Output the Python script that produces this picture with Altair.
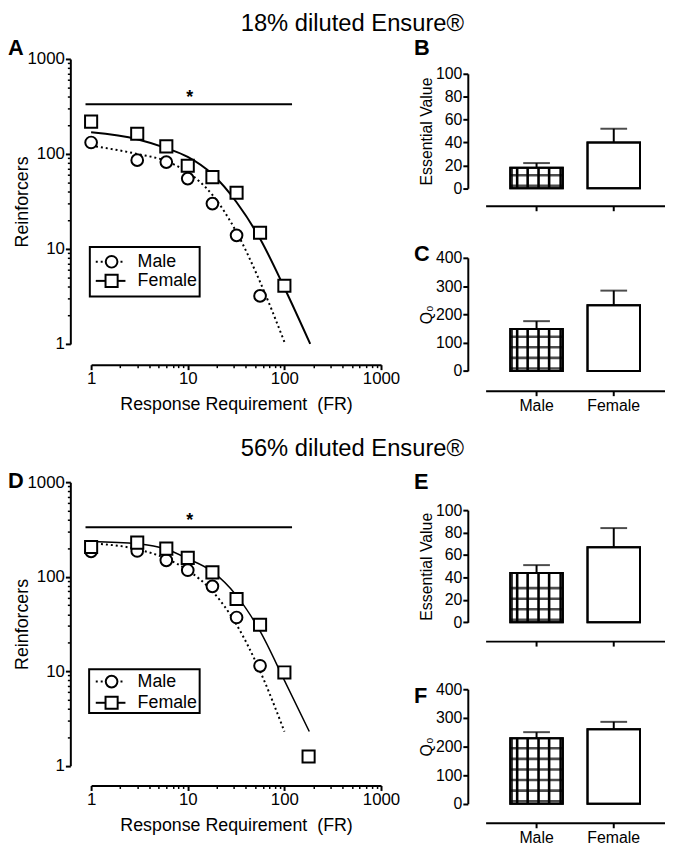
import altair as alt
import pandas as pd

FONT = "Liberation Sans"
BLACK = "black"

# ---------------- data ----------------
fr_schedule = [1, 3, 6, 10, 18, 32, 56, 100, 178]

# Panel A: 18% diluted Ensure - observed reinforcers
a_male = [132, 86, 82, 55, 30, 13.9, 3.2]
a_female = [219, 163, 120, 75, 57, 39, 14.8, 4.1]
# fitted demand curves
a_fit_male_fr = [1, 3, 6, 10, 18, 32, 56, 100]
a_fit_male = [122, 100, 84, 64, 37, 15, 4.5, 1.05]
a_fit_female_fr = [1, 3, 6, 10, 18, 32, 56, 100, 185]
a_fit_female = [169, 143, 115, 93, 61, 31, 12.8, 3.9, 1.0]

# Panel D: 56% diluted Ensure
d_male = [185, 187, 149, 117, 79, 37, 11.4]
d_female = [206, 229, 198, 158, 111, 58, 31, 9.7, 1.25]
d_fit_male_fr = [1, 3, 6, 10, 18, 32, 56, 100]
d_fit_male = [225, 195, 155, 117, 70, 31, 10, 2.3]
d_fit_female_fr = [1, 3, 6, 10, 18, 32, 56, 100, 181]
d_fit_female = [236, 223, 195, 155, 113, 63, 26.5, 8, 2.3]

sig_fr = [0.875, 120]
sig_level = 333
star_fr = 10.5

sexes = ["Male", "Female"]
b_ev = [18, 40]
b_ev_err = [22, 52]
c_q0 = [148, 232]
c_q0_err = [176, 284]
e_ev = [44, 67]
e_ev_err = [51, 84]
f_q0 = [229, 260]
f_q0_err = [250, 286]

LOG_TICKS = [m * 10 ** e for e in range(3) for m in range(1, 10)] + [1000]
IS_DEC = "datum.value == 1 || datum.value == 10 || datum.value == 100 || datum.value == 1000"

one = pd.DataFrame({"k": [0]})


def txt(s, x, y, size, weight="normal", align="left", baseline="alphabetic"):
    return alt.Chart(one).mark_text(
        text=s, font=FONT, fontSize=size, fontWeight=weight, align=align,
        baseline=baseline, color=BLACK
    ).encode(x=alt.value(x), y=alt.value(y))


def log_axis(title, **kw):
    return alt.Axis(
        values=LOG_TICKS,
        labelExpr=f"({IS_DEC}) ? format(datum.value, 'd') : ''",
        tickSize={"condition": {"test": IS_DEC, "value": 5}, "value": 3},
        tickWidth={"condition": {"test": IS_DEC, "value": 2}, "value": 1.5},
        domainWidth=2, domainColor=BLACK, tickColor=BLACK, labelColor=BLACK,
        labelFont=FONT, labelFontSize=17, labelFlush=False, labelOverlap=False,
        labelPadding=1, grid=False, title=title, titleFont=FONT, titleFontSize=18,
        titleFontWeight="normal", titleColor=BLACK, titleBaseline="alphabetic", **kw
    )


def legend(box, rows):
    x0, x1, y0, y1 = box
    layers = [alt.Chart(one).mark_rect(fill="white", fillOpacity=0, stroke=BLACK, strokeWidth=2)
              .encode(x=alt.value(x0), x2=alt.value(x1), y=alt.value(y0), y2=alt.value(y1))]
    for label, shape, size, dash, yy in rows:
        kw = {"strokeDash": dash} if dash else {}
        layers.append(alt.Chart(one).mark_rule(color=BLACK, strokeWidth=2, **kw)
                      .encode(x=alt.value(4.7), x2=alt.value(34.7), y=alt.value(yy)))
        layers.append(alt.Chart(one).mark_point(shape=shape, size=size, filled=True, fill="white",
                                                stroke=BLACK, strokeWidth=2, opacity=1)
                      .encode(x=alt.value(20.7), y=alt.value(yy)))
        layers.append(txt(label, 47, yy, 18, baseline="middle"))
    return layers


def main_panel(male, female, fm_x, fm_y, ff_x, ff_y, height, x_off, title, title_y,
               letter, letter_y, leg_box, leg_rows, line_w):
    xs = alt.Scale(type="log", domain=[1, 1000], nice=False)
    ys = alt.Scale(type="log", domain=[1, 1000], nice=False)
    X = alt.X("FR:Q", scale=xs,
              axis=log_axis("Response Requirement\u00a0 (FR)", offset=x_off, titleY=45.5))
    Y = alt.Y("R:Q", scale=ys, axis=log_axis("Reinforcers", offset=21, titleX=-43.5))
    pts_m = pd.DataFrame({"FR": fr_schedule[:len(male)], "R": male})
    pts_f = pd.DataFrame({"FR": fr_schedule[:len(female)], "R": female})
    fit_m = pd.DataFrame({"FR": fm_x, "R": fm_y})
    fit_f = pd.DataFrame({"FR": ff_x, "R": ff_y})
    sig = pd.DataFrame({"FR": [sig_fr[0]], "FR2": [sig_fr[1]], "R": [sig_level]})
    star = pd.DataFrame({"FR": [star_fr], "R": [sig_level]})
    layers = [
        alt.Chart(fit_m).mark_line(interpolate="monotone", color=BLACK, strokeWidth=2,
                                   strokeDash=[2, 3]).encode(x=X, y=Y),
        alt.Chart(fit_f).mark_line(interpolate="monotone", color=BLACK, strokeWidth=line_w).encode(x=X, y=Y),
        alt.Chart(pts_m).mark_point(shape="circle", size=140, filled=True, fill="white",
                                    stroke=BLACK, strokeWidth=2, opacity=1).encode(x=X, y=Y),
        alt.Chart(pts_f).mark_point(shape="square", size=150, filled=True, fill="white",
                                    stroke=BLACK, strokeWidth=2, opacity=1).encode(x=X, y=Y),
        alt.Chart(sig).mark_rule(color=BLACK, strokeWidth=2).encode(x=X, x2="FR2:Q", y=Y),
        alt.Chart(star).mark_text(text="*", font=FONT, fontSize=18, fontWeight="bold",
                                  baseline="alphabetic", dy=-1, color=BLACK).encode(x=X, y=Y),
    ]
    layers += legend(leg_box, leg_rows)
    layers.append(txt(title, 264, title_y, 24, align="center"))
    layers.append(txt(letter, -84, letter_y, 22, weight="bold"))
    return alt.layer(*layers).properties(width=293, height=height)


V_OFFSETS = [-19.6, -9.0, 2.0, 12.7]


def bar_panel(vals, errs, ymax, step, height, ytitle, title_x, x_off, show_labels, letter, letter_y):
    px = height / ymax
    df = pd.DataFrame({"sex": sexes, "v": vals, "e": errs})
    male = df[df["sex"] == "Male"]
    xsc = alt.Scale(domain=sexes, paddingInner=0.32, paddingOuter=0.32)
    xaxis = alt.Axis(title=None, labels=show_labels, labelAngle=0, labelFont=FONT, labelFontSize=16,
                     labelColor=BLACK, labelPadding=2, domainWidth=2, domainColor=BLACK,
                     tickWidth=2, tickColor=BLACK, tickSize=5, offset=x_off, grid=False)
    yaxis = alt.Axis(values=list(range(0, ymax + 1, step)), offset=18, tickSize=5, tickWidth=2,
                     tickColor=BLACK, domainWidth=2, domainColor=BLACK, labelFont=FONT,
                     labelFontSize=16, labelColor=BLACK, labelPadding=1, grid=False,
                     title=ytitle, titleX=title_x, titleBaseline="alphabetic", titleFont=FONT,
                     titleFontSize=16, titleFontWeight="normal", titleColor=BLACK)
    ysc = alt.Scale(domain=[0, ymax], nice=False)
    X = alt.X("sex:N", scale=xsc, sort=sexes, axis=xaxis)

    def Y(f):
        return alt.Y(f, scale=ysc, axis=yaxis)

    # hatch pattern rows of the male bar (pixel spacing turned into data units)
    rows = []
    yy = 2.5
    while yy < vals[0] * px - 5:
        rows.append(yy / px)
        yy += 10.7
    pat = pd.DataFrame({"sex": ["Male"] * len(rows), "v": rows})

    layers = [alt.Chart(df).mark_bar(fill="white", stroke=BLACK, strokeWidth=2).encode(x=X, y=Y("v:Q"))]
    for k in V_OFFSETS:
        layers.append(alt.Chart(male).mark_rule(xOffset=k, color=BLACK, strokeWidth=2.6)
                      .encode(x=X, y=Y("v:Q"), y2=alt.datum(0)))
    layers.append(alt.Chart(male).mark_rule(xOffset=24.3, color=BLACK, strokeWidth=2.5)
                  .encode(x=X, y=Y("v:Q"), y2=alt.datum(0)))
    layers.append(alt.Chart(male).mark_rule(xOffset=-24.8, color=BLACK, strokeWidth=1.5)
                  .encode(x=X, y=Y("v:Q"), y2=alt.datum(0)))
    if len(rows):
        layers.append(alt.Chart(pat).mark_tick(orient="horizontal", size=53, thickness=2.6, color=BLACK)
                      .encode(x=X, y=Y("v:Q")))
    layers += [
        alt.Chart(df).mark_bar(fillOpacity=0, stroke=BLACK, strokeWidth=2).encode(x=X, y=Y("v:Q")),
        alt.Chart(df).mark_rule(color=BLACK, strokeWidth=2).encode(x=X, y=Y("v:Q"), y2="e:Q"),
        alt.Chart(df).mark_tick(orient="horizontal", size=27, thickness=2, color=BLACK)
        .encode(x=X, y=Y("e:Q")),
        txt(letter, -72.4, letter_y, 22, weight="bold"),
    ]
    return alt.layer(*layers).properties(width=181, height=height)


def spacer(h):
    return alt.Chart(one).mark_point(opacity=0).encode(
        x=alt.value(0), y=alt.value(0)).properties(width=181, height=h)


A = main_panel(a_male, a_female, a_fit_male_fr, a_fit_male, a_fit_female_fr, a_fit_female,
               288, 21, "18% diluted Ensure®", -28, "A", -4.3,
               (-1.3, 109.7, 190, 240),
               [("Male", "circle", 140, [2, 3], 205), ("Female", "square", 150, None, 224.3)], 2)
D = main_panel(d_male, d_female, d_fit_male_fr, d_fit_male, d_fit_female_fr, d_fit_female,
               286.6, 20, "56% diluted Ensure®", -26.7, "D", 5.6,
               (-2, 109.7, 189, 233.3),
               [("Male", "circle", 140, [2, 3], 201.6), ("Female", "square", 150, None, 223)], 1.5)

B = bar_panel(b_ev, b_ev_err, 100, 20, 115.7, "Essential Value", -36.5, 17.7, False, "B", -19.3)
C = bar_panel(c_q0, c_q0_err, 400, 100, 114.3, "Q\u2080", -37, 20, True, "C", 3.3)
E = bar_panel(e_ev, e_ev_err, 100, 20, 113.4, "Essential Value", -36.5, 19, False, "E", -21)
F = bar_panel(f_q0, f_q0_err, 400, 100, 115.7, "Q\u2080", -37, 19.3, True, "F", 14)

left = alt.vconcat(A, D, spacing=139.7, bounds="flush")
right = alt.vconcat(spacer(14.3), B, spacer(70), C, spacer(140), E, spacer(66.6), F,
                    spacing=0, bounds="flush")

chart = (
    alt.hconcat(left, right, spacing=398.7, bounds="flush")
    .properties(padding=0)
    .configure_view(stroke=None)
)

chart.save("out.html", embed_options={"renderer": "svg", "actions": False})
